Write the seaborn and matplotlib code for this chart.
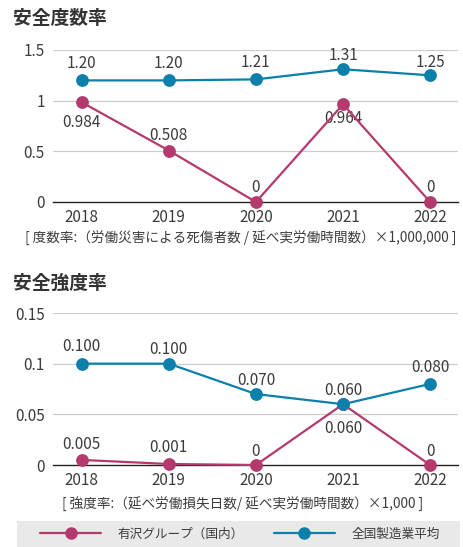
import matplotlib
matplotlib.use("Agg")
import matplotlib.pyplot as plt
from matplotlib.patches import Rectangle
from matplotlib.lines import Line2D
import seaborn as sns
import pandas as pd

sns.set_theme(style="white")
plt.rcParams["font.family"] = ["Noto Sans CJK JP", "DejaVu Sans"]

years = ["2018", "2019", "2020", "2021", "2022"]
series_names = ["有沢グループ（国内）", "全国製造業平均"]

freq_group = [0.984, 0.508, 0, 0.964, 0]
freq_group_labels = ["0.984", "0.508", "0", "0.964", "0"]
freq_national = [1.20, 1.20, 1.21, 1.31, 1.25]
freq_national_labels = ["1.20", "1.20", "1.21", "1.31", "1.25"]

sev_group = [0.005, 0.001, 0, 0.060, 0]
sev_group_labels = ["0.005", "0.001", "0", "0.060", "0"]
sev_national = [0.100, 0.100, 0.070, 0.060, 0.080]
sev_national_labels = ["0.100", "0.100", "0.070", "0.060", "0.080"]

freq_ticks = [0, 0.5, 1, 1.5]
freq_ticklabels = ["0", "0.5", "1", "1.5"]
sev_ticks = [0, 0.05, 0.1, 0.15]
sev_ticklabels = ["0", "0.05", "0.1", "0.15"]

title_freq = "安全度数率"
title_sev = "安全強度率"
note_freq = "[ 度数率:（労働災害による死傷者数 / 延べ実労働時間数）×1,000,000 ]"
note_sev = "[ 強度率:（延べ労働損失日数/ 延べ実労働時間数）×1,000 ]"

MAGENTA = "#b43a6e"
BLUE = "#0b80aa"
palette = {series_names[0]: MAGENTA, series_names[1]: BLUE}
TEXT = "#3c3c3c"
NUM_SIZE = 11

W, H = 464, 547
fig = plt.figure(figsize=(W / 100, H / 100), dpi=100)


def px_axes(left, right, top, bottom):
    return fig.add_axes([left / W, 1 - bottom / H, (right - left) / W, (bottom - top) / H])


def draw_panel(ax, group, national, g_labels, n_labels, g_off, n_off, ticks, ticklabels):
    df = pd.DataFrame({
        "year": years * 2,
        "value": list(group) + list(national),
        "series": [series_names[0]] * len(years) + [series_names[1]] * len(years),
    })
    sns.pointplot(data=df, x="year", y="value", hue="series", order=years,
                  hue_order=series_names, palette=palette, markers="o",
                  markersize=8, linewidth=1.6, errorbar=None, legend=False, ax=ax)
    for coll in ax.collections:
        coll.set_clip_on(False)
    for line in ax.lines:
        line.set_clip_on(False)
        line.set_zorder(3)
    ax.set_xlim(-0.33, 4.32)
    ax.set_ylim(ticks[0], ticks[-1])
    ax.set_yticks(ticks)
    ax.set_yticklabels(ticklabels)
    ax.set_xlabel("")
    ax.set_ylabel("")
    for y in ticks[1:]:
        ax.axhline(y, color="#cccccc", lw=0.9, zorder=0)
    for s in ["top", "right", "left"]:
        ax.spines[s].set_visible(False)
    ax.spines["bottom"].set_color("#222222")
    ax.spines["bottom"].set_linewidth(1.0)
    ax.tick_params(axis="both", length=0, labelsize=NUM_SIZE, colors=TEXT)
    ax.tick_params(axis="y", pad=6)
    ax.tick_params(axis="x", pad=5)
    for i, (v, lab, off) in enumerate(zip(group, g_labels, g_off)):
        ax.annotate(lab, (i, v), xytext=(0, off * 0.72), textcoords="offset points",
                    ha="center", va="center", fontsize=NUM_SIZE, color=TEXT, zorder=2)
    for i, (v, lab, off) in enumerate(zip(national, n_labels, n_off)):
        ax.annotate(lab, (i, v), xytext=(0, off * 0.72), textcoords="offset points",
                    ha="center", va="center", fontsize=NUM_SIZE, color=TEXT, zorder=2)


ax1 = px_axes(53, 458, 50, 202)
draw_panel(ax1, freq_group, freq_national, freq_group_labels, freq_national_labels,
           [-20, 15, 15, -14, 15], [17, 17, 17, 14, 13], freq_ticks, freq_ticklabels)

ax2 = px_axes(53, 458, 313, 465)
draw_panel(ax2, sev_group, sev_national, sev_group_labels, sev_national_labels,
           [15, 16, 13, -24, 13], [17, 14, 14, 14, 16], sev_ticks, sev_ticklabels)

fig.text(13 / W, 1 - 18 / H, title_freq, fontsize=13.5, fontweight="bold",
         color="#333333", ha="left", va="center")
fig.text(13 / W, 1 - 283 / H, title_sev, fontsize=13.5, fontweight="bold",
         color="#333333", ha="left", va="center")
fig.text(25 / W, 1 - 239 / H, note_freq, fontsize=9.8, color=TEXT, ha="left", va="center")
fig.text(62 / W, 1 - 505 / H, note_sev, fontsize=9.8, color=TEXT, ha="left", va="center")

# legend band at the bottom
fig.patches.append(Rectangle((17 / W, 0), 443 / W, 26 / H, transform=fig.transFigure,
                             facecolor="#e9e9e9", edgecolor="none", zorder=0))
handles = [Line2D([], [], color=palette[n], lw=1.6, marker="o", markersize=8) for n in series_names]
fig.legend(handles, series_names, loc="center", bbox_to_anchor=(240 / W, 1 - 534 / H),
           ncol=2, frameon=False, fontsize=9.1, handlelength=4.8, handletextpad=1.3,
           columnspacing=2.4, labelcolor=TEXT)

fig.savefig("out.png", dpi=100)
